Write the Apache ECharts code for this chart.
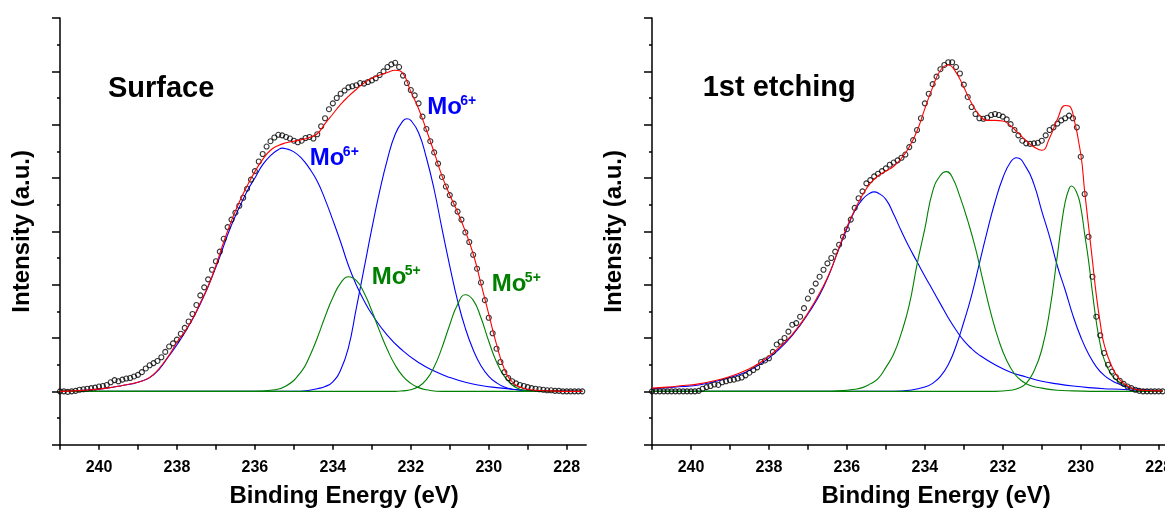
<!DOCTYPE html>
<html>
<head>
<meta charset="utf-8">
<script src="https://cdn.jsdelivr.net/npm/echarts@6/dist/echarts.min.js"></script>
<style>
html,body{margin:0;padding:0;background:#fff;}
#chart{width:1165px;height:508px;}
</style>
</head>
<body>
<div id="chart"></div>
<script>
// ---------- tick labels ----------
const xTickValues = [241, 240, 239, 238, 237, 236, 235, 234, 233, 232, 231, 230, 229, 228];
const xLabelValues = [240, 238, 236, 234, 232, 230, 228];
const panelTitles = ['Surface', '1st etching'];
const xAxisTitle = 'Binding Energy (eV)';
const yAxisTitle = 'Intensity (a.u.)';

// ---------- Surface panel (binding energy eV, intensity a.u.) ----------
const surfaceData = [
[241.0,0.00],[240.9,0.00],[240.8,-0.01],[240.7,0.00],[240.6,0.01],[240.5,0.03],[240.4,0.04],[240.3,0.05],[240.2,0.06],[240.1,0.07],
[240.0,0.09],[239.9,0.10],[239.8,0.12],[239.7,0.17],[239.6,0.21],[239.5,0.19],[239.4,0.22],[239.3,0.24],[239.2,0.25],[239.1,0.28],
[239.0,0.31],[238.9,0.36],[238.8,0.43],[238.7,0.49],[238.6,0.53],[238.5,0.57],[238.4,0.64],[238.3,0.74],[238.2,0.84],[238.1,0.90],
[238.0,0.97],[237.9,1.08],[237.8,1.19],[237.7,1.31],[237.6,1.45],[237.5,1.62],[237.4,1.80],[237.3,1.95],[237.2,2.10],[237.1,2.28],
[237.0,2.44],[236.9,2.62],[236.8,2.86],[236.7,3.08],[236.6,3.22],[236.5,3.35],[236.4,3.48],[236.3,3.63],[236.2,3.80],[236.1,3.97],
[236.0,4.13],[235.9,4.31],[235.8,4.45],[235.7,4.59],[235.6,4.69],[235.5,4.76],[235.4,4.81],[235.3,4.80],[235.2,4.77],[235.1,4.74],
[235.0,4.70],[234.9,4.67],[234.8,4.70],[234.7,4.75],[234.6,4.77],[234.5,4.74],[234.4,4.82],[234.3,4.97],[234.2,5.12],[234.1,5.29],
[234.0,5.40],[233.9,5.50],[233.8,5.58],[233.7,5.64],[233.6,5.70],[233.5,5.72],[233.4,5.74],[233.3,5.78],[233.2,5.77],[233.1,5.80],
[233.0,5.83],[232.9,5.87],[232.8,5.93],[232.7,6.00],[232.6,6.08],[232.5,6.13],[232.4,6.16],[232.3,6.08],[232.2,5.92],[232.1,5.78],
[232.0,5.65],[231.9,5.55],[231.8,5.40],[231.7,5.15],[231.6,4.92],[231.5,4.69],[231.4,4.48],[231.3,4.27],[231.2,4.02],[231.1,3.84],
[231.0,3.68],[230.9,3.52],[230.8,3.37],[230.7,3.22],[230.6,2.98],[230.5,2.80],[230.4,2.56],[230.3,2.30],[230.2,2.04],[230.1,1.71],
[230.0,1.38],[229.9,1.09],[229.8,0.80],[229.7,0.55],[229.6,0.36],[229.5,0.25],[229.4,0.19],[229.3,0.15],[229.2,0.12],[229.1,0.10],
[229.0,0.08],[228.9,0.06],[228.8,0.05],[228.7,0.04],[228.6,0.03],[228.5,0.02],[228.4,0.02],[228.3,0.01],[228.2,0.01],[228.1,0.00],
[228.0,0.00],[227.9,0.00],[227.8,0.00],[227.7,0.00],[227.6,0.00]
];
const surfaceFit = [
[241.0,0.00],[240.6,0.01],[240.2,0.03],[239.8,0.06],[239.4,0.11],[239.0,0.17],[238.8,0.22],[238.6,0.32],[238.4,0.48],[238.2,0.68],
[238.0,0.92],[237.8,1.12],[237.6,1.36],[237.4,1.66],[237.2,1.97],[237.0,2.36],[236.8,2.80],[236.6,3.20],[236.4,3.55],[236.2,3.85],
[236.0,4.12],[235.8,4.35],[235.6,4.52],[235.4,4.61],[235.2,4.66],[235.0,4.69],[234.8,4.72],[234.6,4.76],[234.4,4.83],[234.2,5.02],
[234.0,5.20],[233.8,5.38],[233.6,5.53],[233.4,5.66],[233.2,5.78],[233.0,5.87],[232.8,5.93],[232.6,5.98],[232.4,6.02],[232.2,5.96],
[232.0,5.62],[231.8,5.30],[231.6,4.90],[231.4,4.48],[231.2,4.04],[231.0,3.68],[230.8,3.36],[230.6,3.00],[230.4,2.58],[230.2,2.02],
[230.0,1.45],[229.8,0.88],[229.6,0.42],[229.4,0.18],[229.2,0.08],[229.0,0.04],[228.8,0.02],[228.4,0.01],[228.0,0.00],[227.6,0.00]
];
const surfaceMo6a = [
[241.0,0.00],[240.6,0.01],[240.2,0.03],[239.8,0.06],[239.4,0.11],[239.0,0.17],[238.6,0.31],[238.2,0.67],[237.8,1.10],[237.4,1.64],
[237.0,2.33],[236.6,3.12],[236.2,3.75],[236.0,4.00],[235.8,4.25],[235.6,4.42],[235.4,4.53],[235.3,4.56],[235.2,4.55],[235.0,4.49],
[234.8,4.37],[234.6,4.18],[234.4,3.94],[234.2,3.60],[234.0,3.21],[233.8,2.80],[233.6,2.36],[233.4,2.00],[233.2,1.70],[233.0,1.45],
[232.6,1.05],[232.2,0.76],[231.8,0.54],[231.4,0.38],[231.0,0.26],[230.6,0.17],[230.2,0.11],[229.8,0.07],[229.4,0.04],[229.0,0.02],
[228.4,0.01],[227.6,0.00]
];
const surfaceMo6b = [
[241.0,0.00],[235.0,0.00],[234.6,0.02],[234.4,0.05],[234.2,0.09],[234.0,0.18],[233.8,0.40],[233.6,0.82],[233.4,1.55],[233.2,2.30],
[233.0,3.05],[232.8,3.75],[232.6,4.35],[232.4,4.82],[232.2,5.07],[232.1,5.11],[232.0,5.08],[231.8,4.85],[231.6,4.38],[231.4,3.78],
[231.2,3.05],[231.0,2.35],[230.8,1.70],[230.6,1.18],[230.4,0.78],[230.2,0.48],[230.0,0.28],[229.8,0.16],[229.6,0.08],[229.4,0.04],
[229.0,0.01],[228.6,0.00],[227.6,0.00]
];
const surfaceMo5a = [
[241.0,0.00],[236.0,0.00],[235.6,0.02],[235.2,0.10],[234.8,0.38],[234.6,0.65],[234.4,1.00],[234.2,1.40],[234.0,1.76],[233.8,2.03],
[233.6,2.15],[233.4,2.08],[233.2,1.85],[233.0,1.51],[232.8,1.13],[232.6,0.78],[232.4,0.49],[232.2,0.28],[232.0,0.15],[231.8,0.07],
[231.6,0.03],[231.2,0.00],[227.6,0.00]
];
const surfaceMo5b = [
[241.0,0.00],[232.4,0.00],[232.2,0.01],[232.0,0.03],[231.8,0.09],[231.6,0.22],[231.4,0.46],[231.2,0.82],[231.0,1.25],[230.8,1.63],
[230.6,1.81],[230.4,1.71],[230.2,1.38],[230.0,0.94],[229.8,0.55],[229.6,0.28],[229.4,0.12],[229.2,0.04],[229.0,0.01],[228.8,0.00],
[227.6,0.00]
];

// ---------- 1st etching panel ----------
const etchData = [
[241.0,0.00],[240.9,0.00],[240.8,0.00],[240.7,0.00],[240.6,0.00],[240.5,0.00],[240.4,0.00],[240.3,0.00],[240.2,0.00],[240.1,0.00],
[240.0,0.00],[239.9,0.00],[239.8,0.01],[239.7,0.05],[239.6,0.08],[239.5,0.10],[239.4,0.13],[239.3,0.12],[239.2,0.17],[239.1,0.19],
[239.0,0.21],[238.9,0.22],[238.8,0.24],[238.7,0.26],[238.6,0.30],[238.5,0.35],[238.4,0.40],[238.3,0.45],[238.2,0.55],[238.1,0.58],
[238.0,0.62],[237.9,0.74],[237.8,0.88],[237.7,0.93],[237.6,1.00],[237.5,1.12],[237.4,1.25],[237.3,1.28],[237.2,1.40],[237.1,1.56],
[237.0,1.74],[236.9,1.88],[236.8,2.02],[236.7,2.15],[236.6,2.28],[236.5,2.40],[236.4,2.50],[236.3,2.62],[236.2,2.75],[236.1,2.90],
[236.0,3.04],[235.9,3.22],[235.8,3.44],[235.7,3.62],[235.6,3.75],[235.5,3.90],[235.4,3.96],[235.3,4.03],[235.2,4.08],[235.1,4.13],
[235.0,4.18],[234.9,4.25],[234.8,4.29],[234.7,4.33],[234.6,4.38],[234.5,4.44],[234.4,4.58],[234.3,4.71],[234.2,4.90],[234.1,5.12],
[234.0,5.40],[233.9,5.58],[233.8,5.76],[233.7,5.90],[233.6,6.04],[233.5,6.12],[233.4,6.17],[233.3,6.17],[233.2,6.08],[233.1,5.96],
[233.0,5.75],[232.9,5.52],[232.8,5.33],[232.7,5.20],[232.6,5.12],[232.5,5.11],[232.4,5.13],[232.3,5.18],[232.2,5.20],[232.1,5.18],
[232.0,5.15],[231.9,5.10],[231.8,5.01],[231.7,4.90],[231.6,4.80],[231.5,4.70],[231.4,4.65],[231.3,4.64],[231.2,4.65],[231.1,4.66],
[231.0,4.70],[230.9,4.80],[230.8,4.90],[230.7,4.95],[230.6,5.02],[230.5,5.08],[230.4,5.12],[230.3,5.17],[230.2,5.12],[230.1,4.95],
[230.0,4.40],[229.9,3.70],[229.8,2.90],[229.7,2.15],[229.6,1.40],[229.5,1.05],[229.4,0.72],[229.3,0.50],[229.2,0.37],[229.1,0.27],
[229.0,0.20],[228.9,0.14],[228.8,0.09],[228.7,0.06],[228.6,0.03],[228.5,0.01],[228.4,0.00],[228.3,0.00],[228.2,0.00],[228.1,0.00],
[228.0,0.00],[227.9,0.00]
];
const etchFit = [
[241.0,0.06],[240.6,0.08],[240.2,0.11],[239.8,0.14],[239.4,0.20],[239.0,0.28],[238.6,0.39],[238.2,0.55],[237.8,0.78],[237.4,1.07],
[237.0,1.47],[236.6,1.98],[236.4,2.30],[236.2,2.70],[236.0,3.08],[235.8,3.40],[235.6,3.68],[235.4,3.90],[235.2,4.04],[235.0,4.13],
[234.8,4.22],[234.6,4.37],[234.4,4.58],[234.2,4.88],[234.0,5.30],[233.8,5.70],[233.6,6.02],[233.4,6.12],[233.2,5.98],[233.0,5.70],
[232.8,5.40],[232.6,5.18],[232.4,5.08],[232.2,5.08],[232.0,5.07],[231.8,4.98],[231.6,4.84],[231.4,4.70],[231.2,4.58],[231.0,4.52],
[230.8,4.75],[230.6,5.10],[230.4,5.36],[230.3,5.35],[230.2,5.20],[230.0,4.45],[229.9,3.75],[229.8,3.10],[229.7,2.45],[229.6,1.80],
[229.5,1.28],[229.4,0.88],[229.2,0.46],[229.0,0.22],[228.8,0.10],[228.6,0.04],[228.4,0.02],[228.0,0.01],[227.9,0.01]
];
const etchMo6a = [
[241.0,0.05],[240.6,0.07],[240.2,0.09],[239.8,0.12],[239.4,0.18],[239.0,0.26],[238.6,0.36],[238.2,0.52],[237.8,0.75],[237.4,1.05],
[237.0,1.45],[236.6,1.95],[236.2,2.68],[236.0,3.05],[235.8,3.38],[235.6,3.60],[235.4,3.72],[235.3,3.74],[235.2,3.72],[235.0,3.60],
[234.8,3.32],[234.6,3.00],[234.4,2.70],[234.2,2.43],[234.0,2.16],[233.8,1.90],[233.6,1.64],[233.4,1.38],[233.2,1.15],[233.0,0.95],
[232.8,0.80],[232.6,0.68],[232.2,0.50],[231.8,0.36],[231.4,0.27],[231.0,0.19],[230.6,0.14],[230.2,0.10],[229.8,0.07],[229.4,0.05],
[229.0,0.04],[228.6,0.02],[228.2,0.01],[227.9,0.01]
];
const etchMo5a = [
[241.0,0.00],[236.6,0.00],[236.2,0.01],[235.8,0.04],[235.6,0.07],[235.4,0.14],[235.2,0.24],[235.0,0.45],[234.8,0.70],[234.6,1.10],
[234.4,1.62],[234.2,2.38],[234.0,3.05],[233.8,3.75],[233.6,4.05],[233.45,4.12],[233.3,4.02],[233.1,3.65],[232.9,3.20],[232.7,2.68],
[232.5,2.05],[232.3,1.45],[232.1,0.95],[231.9,0.58],[231.7,0.33],[231.5,0.19],[231.3,0.11],[231.0,0.06],[230.6,0.02],[230.2,0.01],
[229.5,0.00],[227.9,0.00]
];
const etchMo6b = [
[241.0,0.00],[234.8,0.00],[234.4,0.02],[234.0,0.08],[233.8,0.15],[233.6,0.28],[233.4,0.50],[233.2,0.85],[233.0,1.30],[232.8,1.80],
[232.6,2.40],[232.4,3.00],[232.2,3.55],[232.0,4.00],[231.8,4.30],[231.65,4.38],[231.4,4.20],[231.2,3.88],[231.0,3.38],[230.8,2.90],
[230.6,2.35],[230.4,1.90],[230.2,1.42],[230.0,1.02],[229.8,0.70],[229.6,0.46],[229.4,0.30],[229.2,0.20],[229.0,0.13],[228.8,0.08],
[228.6,0.05],[228.2,0.02],[227.9,0.01]
];
const etchMo5b = [
[241.0,0.00],[232.2,0.00],[231.8,0.02],[231.6,0.06],[231.4,0.15],[231.2,0.38],[231.0,0.78],[230.8,1.50],[230.6,2.55],[230.5,3.10],
[230.4,3.55],[230.3,3.80],[230.24,3.85],[230.1,3.72],[230.0,3.45],[229.9,2.95],[229.8,2.45],[229.7,1.85],[229.6,1.30],[229.5,0.88],
[229.4,0.60],[229.2,0.30],[229.0,0.17],[228.8,0.09],[228.6,0.04],[228.4,0.02],[228.0,0.00],[227.9,0.00]
];

// ---------- peak annotations (surface panel), anchored in data coordinates ----------
const peakLabels = [
  {base: 'Mo', sup: '6+', color: '#0000FF', at: [234.59, 4.36]},
  {base: 'Mo', sup: '6+', color: '#0000FF', at: [231.58, 5.32]},
  {base: 'Mo', sup: '5+', color: '#008000', at: [233.00, 2.13]},
  {base: 'Mo', sup: '5+', color: '#008000', at: [229.92, 2.01]}
];
const titleAnchors = [[239.77, 5.66], [239.70, 5.68]];

const FONT = '"Liberation Sans", Arial, Helvetica, sans-serif';
const BLUE = '#0000FF', GREEN = '#008000', RED = '#FF0000';

const chart = echarts.init(document.getElementById('chart'), null, {renderer: 'canvas'});

const grids = [
  {left: 60, top: 18, width: 526.2, height: 426.7, containLabel: false, outerBoundsMode: 'none'},
  {left: 652, top: 18, width: 526.2, height: 426.7, containLabel: false, outerBoundsMode: 'none'}
];

function xAxisFor(i) {
  return {
    gridIndex: i, type: 'value', inverse: true, min: 227.5, max: 241, interval: 0.5,
    name: xAxisTitle, nameLocation: 'middle', nameGap: 40,
    nameTextStyle: {fontFamily: FONT, fontWeight: 'bold', fontSize: 24, color: '#000', padding: [0, 0, 0, 42]},
    axisLine: {onZero: false, lineStyle: {color: '#000', width: 1.5}},
    axisTick: {show: true, length: 5, inside: false, customValues: xTickValues, lineStyle: {color: '#000', width: 1.5}},
    axisLabel: {show: true, margin: 15, customValues: xLabelValues, fontFamily: FONT, fontWeight: 'bold', fontSize: 16, color: '#000',
                hideOverlap: false, formatter: v => String(Math.round(v))},
    splitLine: {show: false}, minorTick: {show: false}
  };
}
function yAxisFor(i) {
  return {
    gridIndex: i, type: 'value', min: -1, max: 7, interval: 1,
    name: yAxisTitle, nameLocation: 'middle', nameGap: 26, nameRotate: 90,
    nameTextStyle: {fontFamily: FONT, fontWeight: 'bold', fontSize: 24, color: '#000'},
    axisLine: {show: true, onZero: false, lineStyle: {color: '#000', width: 1.5}},
    axisTick: {show: true, length: 8, inside: false, lineStyle: {color: '#000', width: 1.5}},
    minorTick: {show: true, splitNumber: 2, length: 3, lineStyle: {color: '#000', width: 1.5}},
    axisLabel: {show: false}, splitLine: {show: false}, minorSplitLine: {show: false}
  };
}

function lineSeries(i, data, color, z) {
  return {type: 'line', xAxisIndex: i, yAxisIndex: i, data: data, showSymbol: false, symbol: 'none',
          smooth: 0.5, lineStyle: {color: color, width: 1.1}, z: z, silent: true};
}
function scatterSeries(i, data) {
  return {type: 'scatter', xAxisIndex: i, yAxisIndex: i, data: data, symbol: 'circle', symbolSize: 5,
          itemStyle: {color: 'rgba(255,255,255,0)', borderColor: '#000', borderWidth: 1.1}, z: 3, silent: true};
}

const panels = [
  {data: surfaceData, fit: surfaceFit, comps: [[surfaceMo6a, BLUE], [surfaceMo6b, BLUE], [surfaceMo5a, GREEN], [surfaceMo5b, GREEN]]},
  {data: etchData, fit: etchFit, comps: [[etchMo6a, BLUE], [etchMo6b, BLUE], [etchMo5a, GREEN], [etchMo5b, GREEN]]}
];

const series = [];
panels.forEach((p, i) => {
  p.comps.forEach(c => series.push(lineSeries(i, c[0], c[1], 2)));
  series.push(scatterSeries(i, p.data));
  series.push(lineSeries(i, p.fit, RED, 4));
});

const option = {
  animation: false,
  backgroundColor: '#fff',
  grid: grids,
  xAxis: [xAxisFor(0), xAxisFor(1)],
  yAxis: [yAxisFor(0), yAxisFor(1)],
  series: series
};
chart.setOption(option);

// titles and peak labels, positioned through the chart's own coordinate conversion
function toPx(i, pt) { return chart.convertToPixel({gridIndex: i}, pt); }
const graphics = [];
panelTitles.forEach((t, i) => {
  const p = toPx(i, titleAnchors[i]);
  graphics.push({type: 'text', x: p[0], y: p[1], style: {text: t, fill: '#000', font: 'bold 29px ' + FONT, align: 'left', verticalAlign: 'middle'}});
});
peakLabels.forEach(l => {
  const p = toPx(0, l.at);
  graphics.push({type: 'text', x: p[0], y: p[1], style: {text: l.base, fill: l.color, font: 'bold 24px ' + FONT, align: 'left', verticalAlign: 'middle'}});
  graphics.push({type: 'text', x: p[0] + 33, y: p[1] - 6.5, style: {text: l.sup, fill: l.color, font: 'bold 14px ' + FONT, align: 'left', verticalAlign: 'middle'}});
});
chart.setOption({graphic: graphics});
</script>
</body>
</html>
